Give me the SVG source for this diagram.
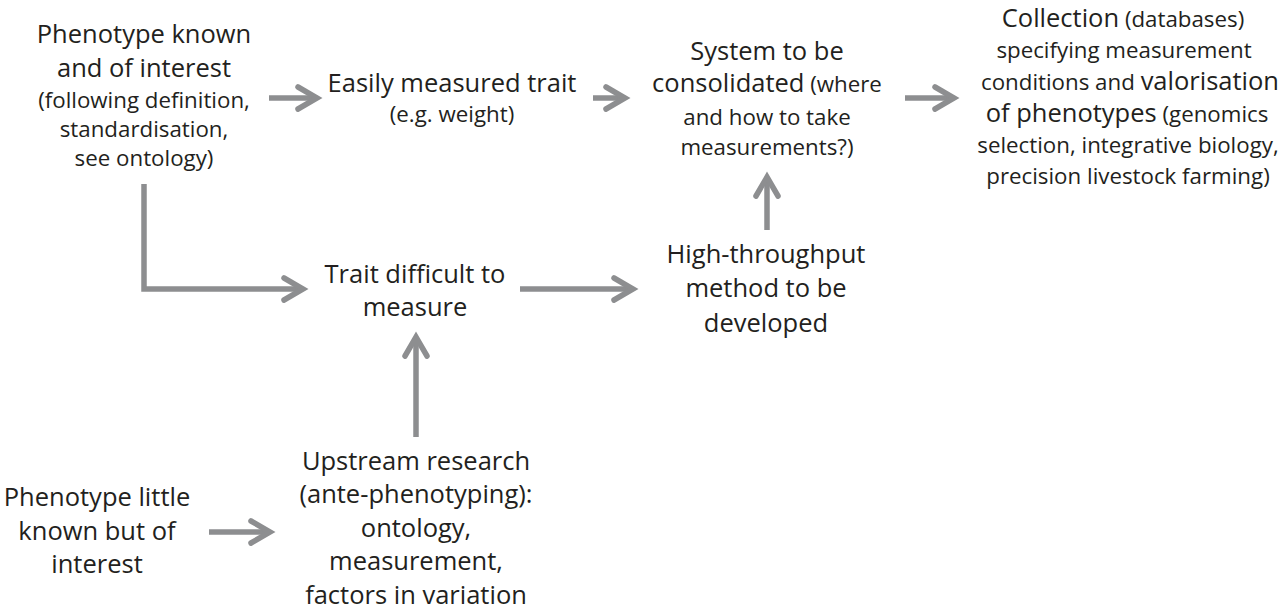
<svg xmlns="http://www.w3.org/2000/svg" width="1283" height="614" viewBox="0 0 1283 614">
<style>
text{font-family:"Open Sans","Noto Sans","DejaVu Sans",sans-serif;fill:#231f20;text-anchor:middle}
.b{font-size:25.5px}
.s{font-size:22.3px}
.c{fill:none;stroke:#8d8e90;stroke-width:5.5}
</style>
<defs>
<marker id="ah" markerUnits="userSpaceOnUse" viewBox="0 0 30 30" refX="22" refY="15" markerWidth="30" markerHeight="30" orient="auto" overflow="visible">
<path d="M3,4 L22,15 L3,26" fill="none" stroke="#8d8e90" stroke-width="5.5" stroke-linecap="round" stroke-miterlimit="10"/>
</marker>
</defs>
<rect width="1283" height="614" fill="#ffffff"/>
<g id="connectors">
<path class="c" d="M269,98 H317" marker-end="url(#ah)"/>
<path class="c" d="M593,98 H625" marker-end="url(#ah)"/>
<path class="c" d="M905,98 H954" marker-end="url(#ah)"/>
<path class="c" d="M144,184 V289 H303" marker-end="url(#ah)"/>
<path class="c" d="M520,289 H633" marker-end="url(#ah)"/>
<path class="c" d="M767,230 V177" marker-end="url(#ah)"/>
<path class="c" d="M416,437 V337" marker-end="url(#ah)"/>
<path class="c" d="M209,532 H270" marker-end="url(#ah)"/>
</g>
<g id="phenotype-known">
<text class="b" x="144" y="43">Phenotype known</text>
<text class="b" x="144" y="77">and of interest</text>
<text class="s" x="144" y="108">(following definition,</text>
<text class="s" x="144" y="137">standardisation,</text>
<text class="s" x="144" y="166">see ontology)</text>
</g>
<g id="easily-measured">
<text class="b" x="452" y="92">Easily measured trait</text>
<text class="s" x="452" y="122">(e.g. weight)</text>
</g>
<g id="system">
<text class="b" x="767" y="60">System to be</text>
<text x="767" y="92"><tspan class="b">consolidated</tspan><tspan class="s"> (where</tspan></text>
<text class="s" x="767" y="125">and how to take</text>
<text class="s" x="767" y="155">measurements?)</text>
</g>
<g id="collection">
<text x="1123" y="27"><tspan class="b">Collection</tspan><tspan class="s"> (databases)</tspan></text>
<text class="s" x="1124" y="58">specifying measurement</text>
<text x="1130" y="90"><tspan class="s">conditions and </tspan><tspan class="b">valorisation</tspan></text>
<text x="1127" y="122"><tspan class="b">of phenotypes</tspan><tspan class="s"> (genomics</tspan></text>
<text class="s" x="1128" y="153">selection, integrative biology,</text>
<text class="s" x="1128" y="184">precision livestock farming)</text>
</g>
<g id="trait-difficult">
<text class="b" x="415" y="283">Trait difficult to</text>
<text class="b" x="415" y="316">measure</text>
</g>
<g id="high-throughput">
<text class="b" x="766" y="263">High-throughput</text>
<text class="b" x="766" y="297">method to be</text>
<text class="b" x="766" y="332">developed</text>
</g>
<g id="phenotype-little">
<text class="b" x="97" y="506">Phenotype little</text>
<text class="b" x="97" y="540">known but of</text>
<text class="b" x="97" y="573">interest</text>
</g>
<g id="upstream">
<text class="b" x="416" y="470">Upstream research</text>
<text class="b" x="416" y="503">(ante-phenotyping):</text>
<text class="b" x="416" y="537">ontology,</text>
<text class="b" x="416" y="570">measurement,</text>
<text class="b" x="416" y="604">factors in variation</text>
</g>
</svg>
